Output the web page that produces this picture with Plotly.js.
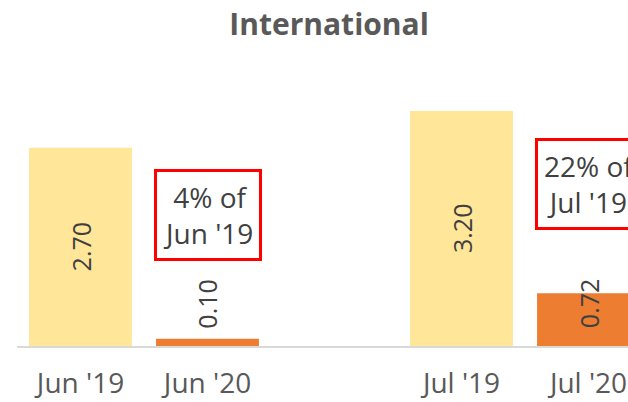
<!DOCTYPE html>
<html>
<head>
<meta charset="utf-8">
<script src="https://cdn.plot.ly/plotly-3.0.1.min.js"></script>
<style>html,body{margin:0;padding:0;background:#fff;overflow:hidden}#chart{width:628px;height:402px}</style>
</head>
<body>
<div id="chart"></div>
<script>
// Data
var categories = ["Jun '19", "Jun '20", "", "Jul '19", "Jul '20"];
var barCategories = ["Jun '19", "Jun '20", "Jul '19", "Jul '20"];
var values = [2.70, 0.10, 3.20, 0.72];
var labels = ["2.70", "0.10", "3.20", "0.72"];
var noteCategories = ["Jun '20", "Jul '20"];
var noteTexts = ["4% of<br>Jun '19", "22% of<br>Jul '19"];

var FONT = "'Open Sans', sans-serif";
var lightYellow = "#FFE699", orange = "#ED7D31";

var xIndex = function(c){ return categories.indexOf(c); };
var xs = barCategories.map(xIndex);
var colors = barCategories.map(function(c){ return c.indexOf("'19") >= 0 ? lightYellow : orange; });

var trace = {
  type: "bar",
  x: xs,
  y: values,
  marker: {color: colors},
  width: 0.81,
  hoverinfo: "none",
  cliponaxis: true
};

var annotations = [];
values.forEach(function(v, i){
  var big = v > 1;
  var a = {
    x: xs[i], y: big ? v / 2 : v,
    xref: "x", yref: "y",
    text: labels[i], showarrow: false, textangle: -90,
    font: {family: FONT, size: 25, color: "#404040"},
    xanchor: "center"
  };
  if (big) { a.yanchor = "middle"; }
  else if (v < 0.3) { a.yanchor = "bottom"; a.yshift = 8; }
  else { a.yanchor = "bottom"; a.yshift = -37; }
  annotations.push(a);
});
var noteY = [1.785, 2.2];
noteCategories.forEach(function(c, i){
  annotations.push({
    x: xIndex(c), y: noteY[i], xref: "x", yref: "y",
    text: noteTexts[i], showarrow: false,
    font: {family: FONT, size: 28, color: "#404040"},
    bordercolor: "#FF0000", borderwidth: 3, borderpad: 6,
    bgcolor: "#FFFFFF", xanchor: "center", yanchor: "middle",
    align: "center"
  });
});

var layout = {
  width: 628, height: 402,
  margin: {l: 17, r: 0, t: 56, b: 56},
  paper_bgcolor: "#fff", plot_bgcolor: "#fff",
  title: {text: "<b>International</b>", font: {family: FONT, size: 30, color: "#595959"}, x: 0.524, xanchor: "center", y: 0.94, yanchor: "middle"},
  showlegend: false,
  bargap: 0.19,
  xaxis: {
    range: [-0.5, 4.311],
    tickvals: categories.map(function(c, i){ return i; }),
    ticktext: categories,
    ticks: "", showgrid: false, zeroline: false,
    showline: true, linecolor: "#D9D9D9", linewidth: 1.5,
    tickfont: {family: FONT, size: 28, color: "#595959"},
    ticklabelstandoff: 12,
    fixedrange: true
  },
  yaxis: {
    range: [0, 3.95], visible: false, showgrid: false, zeroline: false, fixedrange: true
  },
  annotations: annotations
};

Plotly.newPlot("chart", [trace], layout, {staticPlot: true, displayModeBar: false});
</script>
</body>
</html>
